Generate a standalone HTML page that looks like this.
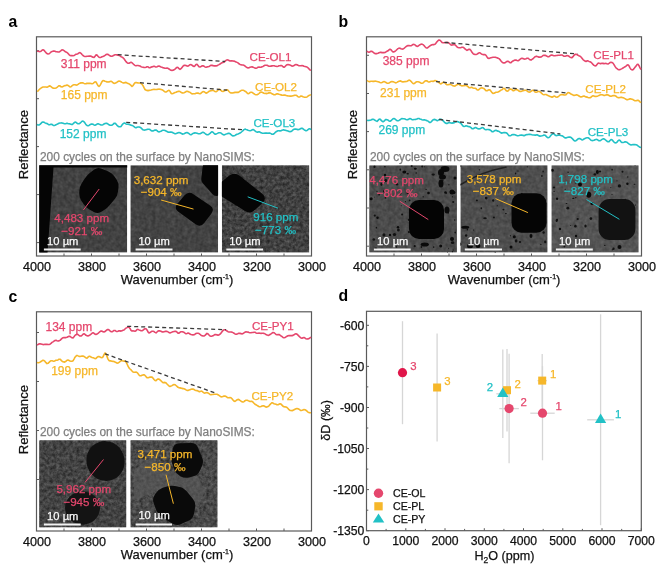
<!DOCTYPE html>
<html><head><meta charset="utf-8"><style>
html,body{margin:0;padding:0;background:#fff;}
svg{display:block;font-family:"Liberation Sans", sans-serif;will-change:transform;}
</style></head><body>
<svg width="660" height="570" viewBox="0 0 660 570">
<rect x="0" y="0" width="660" height="570" fill="#fff"/>
<defs><filter id="tex" x="0" y="0" width="100%" height="100%" color-interpolation-filters="sRGB"><feTurbulence type="fractalNoise" baseFrequency="0.25" numOctaves="2" seed="3"/><feColorMatrix type="matrix" values="1 0 0 0 0  1 0 0 0 0  1 0 0 0 0  0 0 0 0 1" result="n"/><feComposite in="SourceGraphic" in2="n" operator="arithmetic" k1="0" k2="1" k3="0.16" k4="-0.08"/></filter><filter id="tex2" x="0" y="0" width="100%" height="100%" color-interpolation-filters="sRGB"><feTurbulence type="fractalNoise" baseFrequency="0.3" numOctaves="3" seed="5"/><feColorMatrix type="matrix" values="1 0 0 0 0  1 0 0 0 0  1 0 0 0 0  0 0 0 0 1" result="n"/><feComposite in="SourceGraphic" in2="n" operator="arithmetic" k1="0" k2="1" k3="0.32" k4="-0.16"/></filter></defs>
<text x="8.4" y="27.4" font-size="15.8" fill="#000" text-anchor="start" font-weight="bold" >a</text>
<line x1="36.5" y1="256" x2="36.5" y2="253.5" stroke="#5a5a5a" stroke-width="1" />
<line x1="64" y1="256" x2="64" y2="253.5" stroke="#5a5a5a" stroke-width="1" />
<line x1="91.5" y1="256" x2="91.5" y2="253.5" stroke="#5a5a5a" stroke-width="1" />
<line x1="119" y1="256" x2="119" y2="253.5" stroke="#5a5a5a" stroke-width="1" />
<line x1="146.5" y1="256" x2="146.5" y2="253.5" stroke="#5a5a5a" stroke-width="1" />
<line x1="174" y1="256" x2="174" y2="253.5" stroke="#5a5a5a" stroke-width="1" />
<line x1="201.5" y1="256" x2="201.5" y2="253.5" stroke="#5a5a5a" stroke-width="1" />
<line x1="229" y1="256" x2="229" y2="253.5" stroke="#5a5a5a" stroke-width="1" />
<line x1="256.5" y1="256" x2="256.5" y2="253.5" stroke="#5a5a5a" stroke-width="1" />
<line x1="284" y1="256" x2="284" y2="253.5" stroke="#5a5a5a" stroke-width="1" />
<line x1="311.5" y1="256" x2="311.5" y2="253.5" stroke="#5a5a5a" stroke-width="1" />
<text x="37.1" y="270.6" font-size="12.6" fill="#111" stroke="#111" stroke-width="0.25" text-anchor="middle" font-weight="normal" >4000</text>
<text x="92.1" y="270.6" font-size="12.6" fill="#111" stroke="#111" stroke-width="0.25" text-anchor="middle" font-weight="normal" >3800</text>
<text x="147.1" y="270.6" font-size="12.6" fill="#111" stroke="#111" stroke-width="0.25" text-anchor="middle" font-weight="normal" >3600</text>
<text x="202.1" y="270.6" font-size="12.6" fill="#111" stroke="#111" stroke-width="0.25" text-anchor="middle" font-weight="normal" >3400</text>
<text x="257.1" y="270.6" font-size="12.6" fill="#111" stroke="#111" stroke-width="0.25" text-anchor="middle" font-weight="normal" >3200</text>
<text x="312.1" y="270.6" font-size="12.6" fill="#111" stroke="#111" stroke-width="0.25" text-anchor="middle" font-weight="normal" >3000</text>
<text x="177" y="284.2" font-size="13" fill="#111" stroke="#111" stroke-width="0.25" text-anchor="middle">Wavenumber (cm<tspan font-size="7" dy="-5">-1</tspan><tspan dy="5">)</tspan></text>
<text transform="translate(27.6,144.6) rotate(-90)" font-size="13.1" fill="#111" stroke="#111" stroke-width="0.25" text-anchor="middle">Reflectance</text>
<rect x="36.5" y="36.8" width="275" height="219.2" fill="none" stroke="#5a5a5a" stroke-width="1.2"/>
<line x1="36.5" y1="50.7" x2="39" y2="50.7" stroke="#5a5a5a" stroke-width="1" />
<line x1="36.5" y1="98.7" x2="39" y2="98.7" stroke="#5a5a5a" stroke-width="1" />
<line x1="36.5" y1="146.6" x2="39" y2="146.6" stroke="#5a5a5a" stroke-width="1" />
<line x1="36.5" y1="194.6" x2="39" y2="194.6" stroke="#5a5a5a" stroke-width="1" />
<line x1="36.5" y1="242.6" x2="39" y2="242.6" stroke="#5a5a5a" stroke-width="1" />
<polyline points="37,51.3 38,51.3 39,51.5 40,51.6 41,51.2 42,50.2 43,49.7 44,50.2 45,51.5 46,52.6 47,53.6 48,54 49,53.8 50,53 51,52 52,51.6 53,51.1 54,51 55,51.3 56,51.7 57,51.8 58,52 59,52 60,51.5 61,50.7 62,49.8 63,50 64,50.6 65,51.5 66,52.1 67,52.5 68,53.4 69,54.6 70,55.5 71,55.6 72,55.5 73,55.7 74,55.5 75,54.9 76,54.2 77,54.1 78,53.7 79,52.9 80,52.6 81,53.3 82,54.5 83,55.5 84,56.2 85,56.5 86,56.5 87,56.3 88,56.2 89,56.1 90,56 91,56.1 92,56.7 93,57.3 94,57.4 95,56.4 96,54.9 97,55.1 98,56.3 99,57.3 100,57.6 101,57.2 102,56.7 103,56.4 104,56.1 105,55.4 106,54.6 107,54.3 108,54.4 109,55.1 110,55.8 111,56.3 112,56.2 113,55.8 114,55.2 115,54.8 116,54.7 117,54.9 118,55.1 119,55.4 120,55.9 121,56.7 122,57.1 123,57.7 124,58.8 125,60.2 126,61.6 127,62.6 128,63.2 129,63.2 130,62.7 131,62.3 132,62.7 133,63.7 134,64.7 135,65.5 136,65.7 137,65.5 138,65.5 139,65.7 140,66 141,66.7 142,67 143,67.2 144,67.4 145,67.5 146,67.2 147,66.7 148,66.8 149,67.6 150,67.7 151,67.1 152,66.9 153,66.6 154,66.3 155,66.6 156,67.1 157,66.8 158,66.3 159,66 160,66.4 161,67 162,67.3 163,67.7 164,67.9 165,68.2 166,68.2 167,68 168,68.3 169,69 170,69.7 171,70.2 172,70.4 173,70.3 174,69.8 175,69.1 176,68.2 177,67.3 178,67.5 179,68.7 180,69.4 181,68.7 182,67.4 183,66.2 184,65.4 185,65.3 186,65.5 187,66 188,66.1 189,65.5 190,64.7 191,64.6 192,65.2 193,66.1 194,66.5 195,65.8 196,64.5 197,64.3 198,65.5 199,66.8 200,67 201,66.5 202,65.9 203,65.7 204,66.2 205,67 206,67.2 207,66.9 208,66.7 209,66.5 210,65.9 211,65.3 212,65.4 213,65.6 214,65.9 215,65.9 216,65.9 217,65.7 218,65.1 219,64.6 220,64 221,63.3 222,62.8 223,62.5 224,62.1 225,61.3 226,60.4 227,59.9 228,60 229,60.5 230,61 231,60.9 232,60.9 233,61 234,61.1 235,61.5 236,61.9 237,62.4 238,62.9 239,63.8 240,64.4 241,64.7 242,65 243,65 244,65.3 245,66 246,66.9 247,67.6 248,67.9 249,67.7 250,67.2 251,67 252,66.9 253,67.1 254,67.6 255,68.1 256,68.2 257,67.9 258,67.2 259,67 260,67.2 261,67.2 262,66.8 263,66.4 264,65.8 265,65.3 266,65.2 267,65.2 268,65.8 269,66.3 270,66.3 271,66.1 272,65.9 273,65.7 274,65.8 275,66.1 276,66.3 277,66.5 278,66.2 279,65.8 280,65.7 281,65.4 282,65.7 283,66.7 284,67.3 285,66.6 286,65.4 287,64.8 288,64.6 289,64.8 290,65.1 291,65.5 292,66.1 293,66 294,65.5 295,64.8 296,64.5 297,64.7 298,65.3 299,65.7 300,65.8 301,65.7 302,65.6 303,65.8 304,66.3 305,66.5 306,66.7 307,67 308,67.8 309,68.9 310,69.9 311,70.3" fill="none" stroke="#e5476d" stroke-width="1.6" stroke-linejoin="round"/>
<polyline points="37,91.3 38,91 39,89.8 40,88.8 41,88.1 42,87.4 43,87 44,87 45,87 46,87 47,87.2 48,86.7 49,86.1 50,85.9 51,86.6 52,87.5 53,88.1 54,88.3 55,88.2 56,88 57,87.4 58,86.5 59,85.7 60,85.9 61,86.8 62,86.9 63,86.5 64,85.9 65,85.6 66,85.5 67,85 68,85.4 69,86.2 70,87 71,86.8 72,85.8 73,85 74,84.7 75,84.8 76,85.1 77,85 78,84.4 79,83.6 80,83.1 81,82.9 82,82.7 83,82.9 84,83.4 85,83.7 86,83.6 87,83.4 88,83.4 89,83.4 90,83.4 91,83.5 92,83.8 93,83.5 94,82.6 95,81.9 96,82 97,83.8 98,85.6 99,86.4 100,85.5 101,83.6 102,81.6 103,80.6 104,80.8 105,81.3 106,81.5 107,81.9 108,82 109,81.9 110,81.6 111,81.3 112,81.8 113,82.8 114,83.4 115,83.2 116,82.8 117,82.2 118,81.5 119,81.1 120,81.3 121,81.8 122,82.4 123,82.9 124,83 125,82.6 126,82.4 127,83 128,83.4 129,83.8 130,84.5 131,85.4 132,86.5 133,85.7 134,84 135,82.7 136,82.4 137,82.7 138,82.9 139,83 140,83 141,83.4 142,84.2 143,85.6 144,87.7 145,89.5 146,90.2 147,90.4 148,90.6 149,90.4 150,90.2 151,90 152,89.7 153,89.5 154,89.4 155,89.5 156,89.5 157,89.4 158,89.2 159,89.1 160,89.2 161,89.4 162,89.7 163,90.2 164,91.2 165,91.9 166,92 167,91.5 168,90.7 169,90.3 170,91.3 171,93.2 172,93.8 173,93.5 174,93 175,92.6 176,92.3 177,91.7 178,91.4 179,91.2 180,91.5 181,92.3 182,92.9 183,93 184,92.7 185,92.3 186,91.6 187,91.2 188,91.5 189,91.9 190,92.4 191,93.2 192,93.9 193,93.8 194,93.8 195,93.7 196,93.3 197,93.1 198,93 199,93.5 200,93.8 201,93.2 202,92.2 203,91.6 204,91.7 205,92.4 206,93.1 207,92.9 208,92.2 209,91.3 210,90.9 211,90.7 212,90.4 213,90.4 214,90.9 215,91.5 216,91.7 217,91.1 218,90.1 219,89.3 220,89.5 221,90.4 222,91.3 223,91.5 224,91.1 225,90.5 226,89.8 227,89.8 228,90.3 229,91.5 230,92.5 231,92.9 232,93 233,92.9 234,92.6 235,92.4 236,92.4 237,92.4 238,92.4 239,92 240,91.2 241,90.6 242,90.3 243,90.3 244,90.6 245,91.2 246,91.8 247,92.9 248,93.7 249,93.4 250,92.6 251,92.2 252,92.3 253,93 254,93.8 255,94.4 256,94.7 257,94.8 258,94.3 259,93.5 260,92.6 261,92 262,92.3 263,92.7 264,93.3 265,93.5 266,93.4 267,93.6 268,93.1 269,92.9 270,92.9 271,93 272,93.8 273,94.3 274,94.8 275,94.8 276,94.3 277,93.8 278,93.9 279,94.3 280,94.6 281,94.9 282,95.1 283,95.2 284,95 285,95.1 286,95.4 287,95.7 288,95.9 289,96 290,96.1 291,96.1 292,96 293,95.7 294,95.4 295,95.2 296,95.2 297,95.8 298,96.8 299,97.1 300,96.7 301,96 302,96.3 303,96.8 304,97.1 305,97.2 306,97.2 307,97 308,96.2 309,95.4 310,95.1 311,94.7" fill="none" stroke="#f6b72a" stroke-width="1.6" stroke-linejoin="round"/>
<polyline points="37,124.6 38,125 39,125 40,124.4 41,123.4 42,122.2 43,121.9 44,122.2 45,122.9 46,123.4 47,123.5 48,124.2 49,124.7 50,124.6 51,124.3 52,124.4 53,125.2 54,125.6 55,125.2 56,124.7 57,124.3 58,123.8 59,123.2 60,123 61,123 62,122.9 63,123.2 64,123.6 65,123.8 66,123.6 67,123.3 68,123.6 69,123.8 70,123.9 71,124.2 72,124.6 73,123.9 74,122.9 75,122.1 76,122.3 77,123.2 78,123.7 79,123.8 80,123.3 81,122.3 82,121.2 83,121.1 84,121.8 85,123.1 86,124.6 87,125.4 88,125.8 89,125.4 90,124.7 91,124.1 92,124 93,124.3 94,124.9 95,125.2 96,124.8 97,124.1 98,123.8 99,124.1 100,124.6 101,125 102,125 103,124.7 104,124 105,123.5 106,123.4 107,123.4 108,124 109,124.8 110,125.2 111,125.3 112,125.2 113,124.4 114,123.4 115,123.2 116,124.1 117,125.3 118,126.2 119,126.8 120,126.8 121,126.4 122,125.1 123,123.8 124,123 125,123.1 126,124 127,124.3 128,124.3 129,124.4 130,124.8 131,125.2 132,125.4 133,125.9 134,126.6 135,127.4 136,127.7 137,127.2 138,127 139,127 140,127.3 141,127.9 142,128.9 143,129.8 144,130.1 145,130 146,129.7 147,129.4 148,129.2 149,129.2 150,129.6 151,130.5 152,131 153,130.9 154,130.5 155,130.1 156,130 157,130.7 158,131.6 159,131.9 160,131.6 161,131.2 162,130.6 163,130.2 164,130.3 165,130.5 166,131 167,131.5 168,132.1 169,132.2 170,132.1 171,132 172,132.2 173,132.8 174,133.3 175,133.7 176,133.6 177,133.2 178,132.8 179,132.6 180,132.8 181,133.3 182,133.9 183,134.1 184,133.8 185,133.3 186,132.8 187,132.6 188,133 189,133.7 190,134.4 191,134.8 192,134.1 193,133.4 194,133.1 195,132.9 196,133 197,133.3 198,133.6 199,133.8 200,133.8 201,133.3 202,132.6 203,132.3 204,132.7 205,133.5 206,134.3 207,134.8 208,134.7 209,134.1 210,133.3 211,132.4 212,131.8 213,132.2 214,133.3 215,134.2 216,134.1 217,133.6 218,133.1 219,132.8 220,132.8 221,133 222,133.9 223,134.6 224,134.9 225,134.6 226,134.1 227,133.8 228,133.4 229,133.3 230,133.7 231,134.6 232,135.5 233,135.9 234,135.8 235,135.4 236,134.8 237,134.2 238,133.9 239,133.5 240,133 241,132.3 242,131.5 243,130.6 244,129.6 245,129.1 246,129.5 247,129.8 248,130.2 249,130.5 250,130.7 251,130.5 252,129.9 253,129.5 254,130 255,130.9 256,131.7 257,132.1 258,132.1 259,131.8 260,132.1 261,132.8 262,133.1 263,133.2 264,133.2 265,133.1 266,133 267,133.1 268,133.2 269,133 270,133.1 271,133.6 272,134.2 273,134.3 274,133.7 275,132.7 276,131.8 277,131.2 278,130.7 279,130.7 280,130.9 281,130.7 282,130.2 283,129.9 284,129.9 285,130.3 286,130.4 287,130.7 288,131.1 289,131.5 290,131.6 291,131.5 292,130.8 293,129.9 294,129.3 295,129 296,129.1 297,129.4 298,129.6 299,129.5 300,129.1 301,128.4 302,128.2 303,128.8 304,129.6 305,130.3 306,130.8 307,130.5 308,129.6 309,128.8 310,128.8 311,129.6" fill="none" stroke="#22c1c6" stroke-width="1.6" stroke-linejoin="round"/>
<line x1="117.7" y1="54.7" x2="225" y2="61.5" stroke="#3a3a3a" stroke-width="1.3" stroke-dasharray="4 3"/>
<line x1="140" y1="82.7" x2="227.2" y2="90.1" stroke="#3a3a3a" stroke-width="1.3" stroke-dasharray="4 3"/>
<line x1="126.2" y1="122.3" x2="242" y2="129.7" stroke="#3a3a3a" stroke-width="1.3" stroke-dasharray="4 3"/>
<text x="60.8" y="67.8" font-size="12" fill="#e5476d" stroke="#e5476d" stroke-width="0.25" text-anchor="start" font-weight="normal" >311 ppm</text>
<text x="60.8" y="98.6" font-size="12" fill="#f6b72a" stroke="#f6b72a" stroke-width="0.25" text-anchor="start" font-weight="normal" >165 ppm</text>
<text x="59.7" y="138.2" font-size="12" fill="#22c1c6" stroke="#22c1c6" stroke-width="0.25" text-anchor="start" font-weight="normal" >152 ppm</text>
<text x="249.6" y="60.9" font-size="11.6" fill="#e5476d" stroke="#e5476d" stroke-width="0.25" text-anchor="start" font-weight="normal" >CE-OL1</text>
<text x="255.1" y="91" font-size="11.6" fill="#f6b72a" stroke="#f6b72a" stroke-width="0.25" text-anchor="start" font-weight="normal" >CE-OL2</text>
<text x="253.4" y="127.2" font-size="11.6" fill="#22c1c6" stroke="#22c1c6" stroke-width="0.25" text-anchor="start" font-weight="normal" >CE-OL3</text>
<text x="40" y="160.5" font-size="11.9" fill="#7f7f7f" stroke="#7f7f7f" stroke-width="0.25" text-anchor="start" font-weight="normal" >200 cycles on the surface by NanoSIMS:</text>
<clipPath id="ca1"><rect x="39.2" y="165.3" width="88" height="87.3"/></clipPath>
<g clip-path="url(#ca1)">
<rect x="39.2" y="165.3" width="88" height="87.3" fill="#424242" filter="url(#tex)"/>
<path d="M39,165 L128,165 L128,167.6 L53.5,167.6 L47.5,253 L39,253 Z" fill="#050505"/>
<path d="M94.2,169.6 Q97.4,167.2 101.1,168.6 L108.4,171.5 Q112.1,173 114.3,176.3 L116.8,180.1 Q119,183.5 118.5,187.4 L117.9,192.1 Q117.4,196.1 114.8,199.1 L109.4,205.6 Q106.9,208.7 103.4,210.6 L100.9,212 Q97.4,213.9 93.9,212 L89.4,209.5 Q85.9,207.6 83.7,204.2 L81.2,200.5 Q79.1,197.1 79.2,193.1 L79.4,190.6 Q79.6,186.6 81.7,183.2 L84.8,178.4 Q86.9,175.1 90.1,172.7 Z" fill="#050505"/>
</g>
<line x1="99.2" y1="189" x2="83.4" y2="210" stroke="#e5476d" stroke-width="1" />
<text x="54.3" y="222.3" font-size="11.6" fill="#e5476d" stroke="#e5476d" stroke-width="0.25" text-anchor="start" font-weight="normal" >4,483 ppm</text>
<text x="61.3" y="234.6" font-size="11.6" fill="#e5476d" stroke="#e5476d" stroke-width="0.25" text-anchor="start" font-weight="normal" >−921 ‰</text>
<line x1="43.9" y1="249.5" x2="80.7" y2="249.5" stroke="#f2f2f2" stroke-width="2" />
<text x="47.1" y="244.6" font-size="11.2" fill="#fafafa" stroke="#fafafa" stroke-width="0.25" text-anchor="start" font-weight="normal" >10 µm</text>
<clipPath id="ca2"><rect x="130.4" y="165.3" width="87.7" height="87.3"/></clipPath>
<g clip-path="url(#ca2)">
<rect x="130.4" y="165.3" width="87.7" height="87.3" fill="#434343" filter="url(#tex)"/>
<path d="M184.6,195.3 Q188.5,190.8 193.4,194.2 L210.1,205.6 Q215,209 211.3,213.8 L204.2,223 Q200.5,227.8 195.6,224.3 L178.4,211.7 Q173.5,208.2 177.4,203.7 Z" fill="#050505"/>
<path d="M202.7,166.5 Q203,164 205.5,164 L216.5,164 Q219,164 219,166.5 L219,193.5 Q219,196 216.5,196 L216.5,196 Q214,196 212.4,194.1 L202.6,182.9 Q201,181 201.3,178.5 Z" fill="#050505"/>
</g>
<line x1="161.1" y1="200" x2="193.5" y2="209.1" stroke="#f6b72a" stroke-width="1" />
<text x="133.7" y="183.7" font-size="11.6" fill="#f6b72a" stroke="#f6b72a" stroke-width="0.25" text-anchor="start" font-weight="normal" >3,632 ppm</text>
<text x="140.7" y="196" font-size="11.6" fill="#f6b72a" stroke="#f6b72a" stroke-width="0.25" text-anchor="start" font-weight="normal" >−904 ‰</text>
<line x1="135.6" y1="249.5" x2="172.5" y2="249.5" stroke="#f2f2f2" stroke-width="2" />
<text x="138.4" y="244.6" font-size="11.2" fill="#fafafa" stroke="#fafafa" stroke-width="0.25" text-anchor="start" font-weight="normal" >10 µm</text>
<clipPath id="ca3"><rect x="221.9" y="165.3" width="87.4" height="87.3"/></clipPath>
<g clip-path="url(#ca3)">
<rect x="221.9" y="165.3" width="87.4" height="87.3" fill="#414141" filter="url(#tex2)"/>
<path d="M213,189.8 Q213,188.5 214,187.7 L229,175.8 Q234.5,171.5 240,175.9 L262,193.6 Q267.5,198 262.5,202.9 L255.5,209.6 Q250.5,214.5 244.6,210.8 L214.1,191.7 Q213,191 213,189.8 Z" fill="#050505"/>
</g>
<line x1="247.7" y1="196.8" x2="278" y2="208.2" stroke="#22c1c6" stroke-width="1" />
<text x="253.3" y="221.4" font-size="11.6" fill="#22c1c6" stroke="#22c1c6" stroke-width="0.25" text-anchor="start" font-weight="normal" >916 ppm</text>
<text x="255.1" y="233.7" font-size="11.6" fill="#22c1c6" stroke="#22c1c6" stroke-width="0.25" text-anchor="start" font-weight="normal" >−773 ‰</text>
<line x1="226.3" y1="249.5" x2="263.1" y2="249.5" stroke="#f2f2f2" stroke-width="2" />
<text x="229.3" y="244.6" font-size="11.2" fill="#fafafa" stroke="#fafafa" stroke-width="0.25" text-anchor="start" font-weight="normal" >10 µm</text>
<text x="338.4" y="27.4" font-size="15.8" fill="#000" text-anchor="start" font-weight="bold" >b</text>
<line x1="366.5" y1="256" x2="366.5" y2="253.5" stroke="#5a5a5a" stroke-width="1" />
<line x1="394" y1="256" x2="394" y2="253.5" stroke="#5a5a5a" stroke-width="1" />
<line x1="421.5" y1="256" x2="421.5" y2="253.5" stroke="#5a5a5a" stroke-width="1" />
<line x1="449" y1="256" x2="449" y2="253.5" stroke="#5a5a5a" stroke-width="1" />
<line x1="476.5" y1="256" x2="476.5" y2="253.5" stroke="#5a5a5a" stroke-width="1" />
<line x1="504" y1="256" x2="504" y2="253.5" stroke="#5a5a5a" stroke-width="1" />
<line x1="531.5" y1="256" x2="531.5" y2="253.5" stroke="#5a5a5a" stroke-width="1" />
<line x1="559" y1="256" x2="559" y2="253.5" stroke="#5a5a5a" stroke-width="1" />
<line x1="586.5" y1="256" x2="586.5" y2="253.5" stroke="#5a5a5a" stroke-width="1" />
<line x1="614" y1="256" x2="614" y2="253.5" stroke="#5a5a5a" stroke-width="1" />
<line x1="641.5" y1="256" x2="641.5" y2="253.5" stroke="#5a5a5a" stroke-width="1" />
<text x="367.1" y="270.6" font-size="12.6" fill="#111" stroke="#111" stroke-width="0.25" text-anchor="middle" font-weight="normal" >4000</text>
<text x="422.1" y="270.6" font-size="12.6" fill="#111" stroke="#111" stroke-width="0.25" text-anchor="middle" font-weight="normal" >3800</text>
<text x="477.1" y="270.6" font-size="12.6" fill="#111" stroke="#111" stroke-width="0.25" text-anchor="middle" font-weight="normal" >3600</text>
<text x="532.1" y="270.6" font-size="12.6" fill="#111" stroke="#111" stroke-width="0.25" text-anchor="middle" font-weight="normal" >3400</text>
<text x="587.1" y="270.6" font-size="12.6" fill="#111" stroke="#111" stroke-width="0.25" text-anchor="middle" font-weight="normal" >3200</text>
<text x="642.1" y="270.6" font-size="12.6" fill="#111" stroke="#111" stroke-width="0.25" text-anchor="middle" font-weight="normal" >3000</text>
<text x="504.1" y="284.2" font-size="13" fill="#111" stroke="#111" stroke-width="0.25" text-anchor="middle">Wavenumber (cm<tspan font-size="7" dy="-5">-1</tspan><tspan dy="5">)</tspan></text>
<text transform="translate(357,144.6) rotate(-90)" font-size="13.1" fill="#111" stroke="#111" stroke-width="0.25" text-anchor="middle">Reflectance</text>
<rect x="366.5" y="36.8" width="275" height="219.2" fill="none" stroke="#5a5a5a" stroke-width="1.2"/>
<line x1="366.5" y1="55.3" x2="369" y2="55.3" stroke="#5a5a5a" stroke-width="1" />
<line x1="366.5" y1="93.5" x2="369" y2="93.5" stroke="#5a5a5a" stroke-width="1" />
<line x1="366.5" y1="131.6" x2="369" y2="131.6" stroke="#5a5a5a" stroke-width="1" />
<line x1="366.5" y1="169.8" x2="369" y2="169.8" stroke="#5a5a5a" stroke-width="1" />
<line x1="366.5" y1="208" x2="369" y2="208" stroke="#5a5a5a" stroke-width="1" />
<line x1="366.5" y1="246.2" x2="369" y2="246.2" stroke="#5a5a5a" stroke-width="1" />
<polyline points="367,51 368,52 369,52.3 370,51.8 371,51.2 372,51.4 373,52.1 374,53 375,53.6 376,53.6 377,53.6 378,53.3 379,52.8 380,52.4 381,52.4 382,52.6 383,52.6 384,52.6 385,52.5 386,51.9 387,51.3 388,50.8 389,49.9 390,49.2 391,49.7 392,51 393,51.9 394,51.9 395,51.3 396,50.5 397,49.5 398,48.6 399,48.1 400,48.2 401,48.8 402,49.1 403,49 404,48.4 405,47.5 406,46.7 407,46 408,45.5 409,45.6 410,45.8 411,45.7 412,45.2 413,44.5 414,44.4 415,44.9 416,45.8 417,46.4 418,46.2 419,45.4 420,44.7 421,44.2 422,44.1 423,44.6 424,45.5 425,46.7 426,47.7 427,48.1 428,47.5 429,46.6 430,45.8 431,45.3 432,44.8 433,44.6 434,44.6 435,44.2 436,43.1 437,41.8 438,40.7 439,40 440,40.3 441,41.3 442,42.4 443,42.7 444,42.8 445,42.8 446,42.6 447,42.4 448,42.5 449,43.1 450,44 451,45 452,45.1 453,44.7 454,44.4 455,44.8 456,45.8 457,46.9 458,47.5 459,47.7 460,47.7 461,47.6 462,47.3 463,47.3 464,47.9 465,48.8 466,49.7 467,50.4 468,49.8 469,49.2 470,49.4 471,50.6 472,52.3 473,53.6 474,54.2 475,54.4 476,54.5 477,54.2 478,53.5 479,52.8 480,52.8 481,53.6 482,54.2 483,54.6 484,54.6 485,54.5 486,55.3 487,56.9 488,58.2 489,58.4 490,58.1 491,57.7 492,57.5 493,57.3 494,57.3 495,57.3 496,57.4 497,57.9 498,58.1 499,58.6 500,59.6 501,60.9 502,62.1 503,62.8 504,63.1 505,62.8 506,62 507,61.4 508,61.3 509,61.9 510,62.7 511,62.6 512,61.7 513,61 514,60.4 515,60 516,60.1 517,60.5 518,60.8 519,60.2 520,59.3 521,58.5 522,58.3 523,58.6 524,59 525,59.1 526,58.7 527,58.2 528,58.2 529,59 530,59.8 531,60.1 532,59.4 533,58.8 534,57.8 535,56.8 536,56.4 537,56.4 538,56.9 539,57.1 540,57.1 541,57 542,56.3 543,55.5 544,55.2 545,55.4 546,55.6 547,56.2 548,56.7 549,56.6 550,55.8 551,55 552,55.1 553,55.4 554,55.8 555,55.8 556,55.5 557,55.5 558,55.3 559,55.3 560,55.2 561,55 562,55 563,55.6 564,56.2 565,56.2 566,55.9 567,55.6 568,55.7 569,56.3 570,57.1 571,57.6 572,57.6 573,56.7 574,55.3 575,54.4 576,54.2 577,54.6 578,55.3 579,55.8 580,56.2 581,57 582,58.3 583,59.6 584,60.3 585,61.1 586,61.5 587,60.8 588,60.9 589,61.4 590,61.7 591,62.2 592,63.2 593,64.4 594,65.4 595,65.9 596,65.7 597,64.5 598,63.3 599,63.1 600,63.6 601,63.6 602,63.3 603,63.4 604,63.6 605,63.5 606,63.4 607,63.8 608,64 609,63.4 610,62.6 611,62.3 612,62.5 613,63.1 614,64.6 615,66.4 616,67.9 617,68.6 618,69.4 619,69.8 620,69.6 621,69.1 622,68.6 623,68 624,67.4 625,66.8 626,66.1 627,65.2 628,64.7 629,65.8 630,67.8 631,69.4 632,69.9 633,69.7 634,68.6 635,67.2 636,66.1 637,64.6 638,64.3 639,65.7 640,67.9 641,69.5" fill="none" stroke="#e5476d" stroke-width="1.6" stroke-linejoin="round"/>
<polyline points="367,80.5 368,81.1 369,81.6 370,81.6 371,81.2 372,81.2 373,81.4 374,81.4 375,81.1 376,81.3 377,81.5 378,81.7 379,82.1 380,82.5 381,82.8 382,82.5 383,81.9 384,81.6 385,81.9 386,82.5 387,83.2 388,83.3 389,83 390,82.4 391,81.8 392,81.5 393,81.7 394,82.1 395,82.6 396,82.9 397,82.4 398,81.7 399,81.2 400,80.9 401,81.1 402,81.7 403,81.9 404,81.8 405,81.6 406,81.5 407,81.4 408,80.7 409,80.1 410,80.4 411,81.3 412,82.5 413,83.4 414,83.7 415,83 416,82.1 417,81.7 418,81.8 419,82 420,82.4 421,83.1 422,83.2 423,83 424,82 425,81 426,80.7 427,80.9 428,81.7 429,82.1 430,81.7 431,81.3 432,81.3 433,81.4 434,81 435,80.6 436,80.8 437,81.2 438,81.9 439,82.7 440,83.5 441,83.9 442,83.2 443,82.5 444,82.4 445,83 446,84.1 447,84.8 448,84.8 449,84.5 450,84.3 451,84.6 452,85.1 453,85.8 454,86.1 455,86 456,85.3 457,84.8 458,84.3 459,84.3 460,85 461,85.6 462,85.9 463,85.8 464,85.6 465,85.4 466,85.4 467,85.8 468,86.7 469,87.6 470,87.8 471,87.4 472,87.4 473,88 474,88.3 475,88.2 476,88.6 477,89.7 478,90.1 479,89.5 480,88.5 481,88 482,87.8 483,88.2 484,88.6 485,89.6 486,90.6 487,90.8 488,90.2 489,89.7 490,89.9 491,91.2 492,92.6 493,93.4 494,93.3 495,92.8 496,92.3 497,92.3 498,92 499,91.5 500,90.8 501,90.1 502,89.8 503,88.8 504,88.3 505,89 506,90.5 507,91.2 508,90.9 509,89.8 510,89.1 511,89.1 512,89.7 513,90.6 514,90.6 515,89.9 516,89.4 517,89.6 518,90.2 519,91.1 520,91.5 521,91.4 522,91.1 523,90.7 524,90.4 525,90.2 526,90.3 527,90.9 528,91.7 529,92.1 530,92 531,91.4 532,90.5 533,90.2 534,90.8 535,91.9 536,92.2 537,91.9 538,91.5 539,91.4 540,91.8 541,92.6 542,93.7 543,94.5 544,94.7 545,94.5 546,94.5 547,95 548,95.6 549,96 550,96.4 551,96.8 552,97.3 553,96.7 554,96.1 555,96.3 556,97 557,97.2 558,96.8 559,96 560,95.1 561,94.6 562,94.5 563,94.7 564,94.9 565,95 566,94.8 567,93.5 568,92.6 569,92.7 570,93.3 571,94 572,94.4 573,95 574,95.4 575,95.2 576,94.9 577,94.9 578,95.3 579,96 580,96.7 581,96.9 582,96.7 583,96.3 584,96.1 585,96.5 586,96.9 587,97.1 588,97.5 589,97.8 590,97.8 591,97.2 592,96.2 593,95.8 594,96.1 595,96.4 596,96.5 597,96.2 598,95.9 599,95.4 600,95 601,94.8 602,94.7 603,95.1 604,95.5 605,95.4 606,94.9 607,94.7 608,94.9 609,95.5 610,96.1 611,96.3 612,95.9 613,95.6 614,95.5 615,95.6 616,96.2 617,97.1 618,97.6 619,97.8 620,97.5 621,97.3 622,97.4 623,97.7 624,98.1 625,98.6 626,99.3 627,99.8 628,99.6 629,99.1 630,98.9 631,98.9 632,99.2 633,99.6 634,100.3 635,100.8 636,100.8 637,100.4 638,100.2 639,100.9 640,101.8 641,102.6" fill="none" stroke="#f6b72a" stroke-width="1.6" stroke-linejoin="round"/>
<polyline points="367,120.3 368,120.5 369,120.4 370,120.3 371,120 372,119.4 373,119.2 374,119.5 375,120.3 376,120.9 377,121.4 378,120.4 379,119.2 380,119.1 381,120.1 382,121.1 383,121.7 384,121.2 385,120.1 386,119.4 387,119.7 388,120.1 389,120.9 390,121.2 391,120.7 392,119.7 393,118.7 394,118.5 395,119 396,119.9 397,120.7 398,120.7 399,120.4 400,119.8 401,119 402,118.6 403,118.7 404,118.8 405,119 406,119.4 407,119.7 408,119.6 409,119 410,118.6 411,118.9 412,119.6 413,119.7 414,119.5 415,119.5 416,119.4 417,118.9 418,118.5 419,118.5 420,119 421,119.3 422,119.7 423,120 424,119.9 425,119.9 426,120.4 427,120.6 428,121.1 429,122 430,122.6 431,122.1 432,120.9 433,119.9 434,119.4 435,119.6 436,120 437,120.7 438,120.4 439,119.7 440,119.3 441,119.3 442,119.8 443,120.6 444,121.7 445,122.8 446,123.4 447,123.4 448,123 449,122.6 450,122.7 451,123 452,123.1 453,122.9 454,122.9 455,122.4 456,121.7 457,121.4 458,121.7 459,122.2 460,122.7 461,123.5 462,124.8 463,126.1 464,126.5 465,126.2 466,125.8 467,126.1 468,126.5 469,126.6 470,126.9 471,127.7 472,128.6 473,128.8 474,128.2 475,127.6 476,127.6 477,128.2 478,128.7 479,128.9 480,128.8 481,128.3 482,127.6 483,127.7 484,128.6 485,129.5 486,129.8 487,129.5 488,129.5 489,129.6 490,130 491,130.7 492,131.6 493,131.7 494,131.1 495,130.5 496,130.3 497,130.9 498,131.1 499,131.4 500,132.2 501,132.9 502,133.1 503,132.7 504,132.5 505,132.6 506,132.7 507,133.3 508,134.5 509,135.6 510,135.8 511,135.4 512,134.8 513,134.5 514,134.6 515,134.8 516,135.2 517,135.6 518,135.7 519,135.5 520,135.2 521,135.1 522,135.1 523,135.4 524,135.6 525,135.4 526,134.8 527,134.6 528,134.5 529,134.4 530,134.3 531,134.5 532,134.8 533,135 534,135 535,135.1 536,135.1 537,134.7 538,135.3 539,135.9 540,136.1 541,136 542,135.8 543,135.5 544,135 545,135.2 546,136.1 547,137.1 548,137.7 549,137.5 550,136.6 551,135.3 552,134.3 553,133.6 554,133.9 555,135 556,135.6 557,135.5 558,135.2 559,135 560,135.3 561,135.6 562,135.7 563,136.2 564,137.2 565,137.9 566,137.9 567,137.6 568,137.3 569,137.1 570,137 571,137.4 572,138.3 573,139.4 574,140.5 575,141 576,140.7 577,139.8 578,138.9 579,138.5 580,138.6 581,139.2 582,140 583,139.7 584,139 585,138.4 586,138 587,137.8 588,137.7 589,138.3 590,139.3 591,140.3 592,140.6 593,140.5 594,140.3 595,139.7 596,139.4 597,139.5 598,140.1 599,140.7 600,140.7 601,140.1 602,139.4 603,138.9 604,138.9 605,139.5 606,140.3 607,141.2 608,141.8 609,141.6 610,140.5 611,139.6 612,139.8 613,140.9 614,142.1 615,142.8 616,142.9 617,142.2 618,140.8 619,140 620,140.5 621,141.8 622,142.5 623,142.5 624,142.2 625,141.8 626,141.9 627,142.2 628,143.2 629,144 630,144.6 631,145 632,144.7 633,144.5 634,144.6 635,144.6 636,144.7 637,145.1 638,145.9 639,146.6 640,147.3 641,147.5" fill="none" stroke="#22c1c6" stroke-width="1.6" stroke-linejoin="round"/>
<line x1="444.5" y1="42.4" x2="577.3" y2="54" stroke="#3a3a3a" stroke-width="1.3" stroke-dasharray="4 3"/>
<line x1="436" y1="81.6" x2="566.7" y2="92.9" stroke="#3a3a3a" stroke-width="1.3" stroke-dasharray="4 3"/>
<line x1="439.2" y1="119.5" x2="560.3" y2="133.9" stroke="#3a3a3a" stroke-width="1.3" stroke-dasharray="4 3"/>
<text x="382.7" y="64.6" font-size="12" fill="#e5476d" stroke="#e5476d" stroke-width="0.25" text-anchor="start" font-weight="normal" >385 ppm</text>
<text x="380.1" y="96.5" font-size="12" fill="#f6b72a" stroke="#f6b72a" stroke-width="0.25" text-anchor="start" font-weight="normal" >231 ppm</text>
<text x="378.5" y="133.9" font-size="12" fill="#22c1c6" stroke="#22c1c6" stroke-width="0.25" text-anchor="start" font-weight="normal" >269 ppm</text>
<text x="593.3" y="59.3" font-size="11.6" fill="#e5476d" stroke="#e5476d" stroke-width="0.25" text-anchor="start" font-weight="normal" >CE-PL1</text>
<text x="585.3" y="93.1" font-size="11.6" fill="#f6b72a" stroke="#f6b72a" stroke-width="0.25" text-anchor="start" font-weight="normal" >CE-PL2</text>
<text x="587.7" y="135.6" font-size="11.6" fill="#22c1c6" stroke="#22c1c6" stroke-width="0.25" text-anchor="start" font-weight="normal" >CE-PL3</text>
<text x="370" y="160.5" font-size="11.9" fill="#7f7f7f" stroke="#7f7f7f" stroke-width="0.25" text-anchor="start" font-weight="normal" >200 cycles on the surface by NanoSIMS:</text>
<clipPath id="cb1"><rect x="369.2" y="165.3" width="87.7" height="87.3"/></clipPath>
<g clip-path="url(#cb1)">
<rect x="369.2" y="165.3" width="87.7" height="87.3" fill="#4c4c4c" filter="url(#tex)"/>
<ellipse cx="384.9" cy="166.7" rx="0.9" ry="0.8" fill="#111"/><ellipse cx="411.7" cy="166.1" rx="1.1" ry="1" fill="#111"/><ellipse cx="433.2" cy="174.6" rx="1.7" ry="1.1" fill="#111"/><ellipse cx="424.6" cy="166.8" rx="0.5" ry="0.5" fill="#111"/><ellipse cx="435.8" cy="237" rx="0.6" ry="0.6" fill="#111"/><ellipse cx="376.4" cy="227.7" rx="0.7" ry="0.9" fill="#111"/><ellipse cx="404.3" cy="239.6" rx="1.2" ry="1.2" fill="#111"/><ellipse cx="452.5" cy="251.8" rx="0.6" ry="0.8" fill="#111"/><ellipse cx="374.6" cy="197.1" rx="0.5" ry="0.4" fill="#111"/><ellipse cx="394.5" cy="234.5" rx="1.7" ry="1.5" fill="#111"/><ellipse cx="423.2" cy="196.8" rx="0.6" ry="0.7" fill="#111"/><ellipse cx="374.5" cy="166.8" rx="1.1" ry="1.3" fill="#111"/><ellipse cx="433.7" cy="247.1" rx="0.7" ry="0.9" fill="#111"/><ellipse cx="436.3" cy="222.4" rx="1.4" ry="1.6" fill="#111"/><ellipse cx="398.4" cy="230" rx="1.4" ry="1.6" fill="#111"/><ellipse cx="401.2" cy="205.6" rx="0.4" ry="0.7" fill="#111"/><ellipse cx="408.8" cy="219.8" rx="1.1" ry="1.1" fill="#111"/><ellipse cx="383.9" cy="234.9" rx="1.5" ry="1.6" fill="#111"/><ellipse cx="426" cy="226.3" rx="0.7" ry="0.6" fill="#111"/><ellipse cx="407.5" cy="193.1" rx="1" ry="1" fill="#111"/><ellipse cx="397" cy="184.2" rx="1.2" ry="1.3" fill="#111"/><ellipse cx="377" cy="191.5" rx="0.6" ry="0.7" fill="#111"/><ellipse cx="454.7" cy="220" rx="0.7" ry="0.7" fill="#111"/><ellipse cx="441.7" cy="212" rx="1.4" ry="1.2" fill="#111"/><ellipse cx="414.7" cy="246.2" rx="1.1" ry="1.1" fill="#111"/><ellipse cx="426.1" cy="204.4" rx="1.2" ry="1.1" fill="#111"/><ellipse cx="443" cy="176.2" rx="0.8" ry="1.1" fill="#111"/><ellipse cx="396.6" cy="246.9" rx="0.6" ry="0.8" fill="#111"/><ellipse cx="421.4" cy="247" rx="0.7" ry="1" fill="#111"/><ellipse cx="414.9" cy="209.5" rx="0.5" ry="0.8" fill="#111"/><ellipse cx="453.1" cy="250" rx="0.5" ry="0.8" fill="#111"/><ellipse cx="433.8" cy="222" rx="0.5" ry="0.7" fill="#111"/><ellipse cx="373.8" cy="239.5" rx="1.3" ry="1.2" fill="#111"/><ellipse cx="455.2" cy="232.5" rx="0.8" ry="1" fill="#111"/><ellipse cx="400.3" cy="169.7" rx="0.9" ry="1.1" fill="#111"/><ellipse cx="452.4" cy="196.7" rx="0.5" ry="0.8" fill="#111"/><ellipse cx="375.9" cy="248.8" rx="1.4" ry="1.3" fill="#111"/><ellipse cx="385.8" cy="180.5" rx="1.3" ry="1.8" fill="#111"/><ellipse cx="384" cy="191.3" rx="0.9" ry="1.2" fill="#111"/><ellipse cx="446.4" cy="193.2" rx="0.5" ry="0.7" fill="#111"/><ellipse cx="374.8" cy="215.6" rx="1.1" ry="1.1" fill="#111"/><ellipse cx="421.8" cy="244.4" rx="1.1" ry="0.8" fill="#111"/><ellipse cx="381.4" cy="184.5" rx="1" ry="1.4" fill="#111"/><ellipse cx="448.4" cy="212.9" rx="0.7" ry="0.6" fill="#111"/><ellipse cx="448.9" cy="184.7" rx="0.6" ry="0.7" fill="#111"/><ellipse cx="385.5" cy="197.9" rx="1" ry="0.8" fill="#111"/><ellipse cx="405.5" cy="201.6" rx="0.6" ry="0.7" fill="#111"/><ellipse cx="452.6" cy="242.7" rx="1.7" ry="1.4" fill="#111"/><ellipse cx="451.5" cy="191.5" rx="1" ry="0.9" fill="#111"/><ellipse cx="391" cy="194.1" rx="0.9" ry="0.9" fill="#111"/><ellipse cx="400.2" cy="193.6" rx="1.3" ry="0.9" fill="#111"/><ellipse cx="434.3" cy="209.2" rx="1.2" ry="1.1" fill="#111"/><ellipse cx="442.9" cy="180.3" rx="0.7" ry="0.8" fill="#111"/><ellipse cx="379.1" cy="194.8" rx="1" ry="0.7" fill="#111"/><ellipse cx="435.5" cy="214" rx="0.8" ry="0.8" fill="#111"/><ellipse cx="447.4" cy="252.5" rx="0.5" ry="0.7" fill="#111"/><ellipse cx="436.3" cy="237.4" rx="0.6" ry="0.5" fill="#111"/><ellipse cx="402.1" cy="214.5" rx="1" ry="1" fill="#111"/><ellipse cx="426.5" cy="224.1" rx="0.5" ry="0.4" fill="#111"/><ellipse cx="426.1" cy="189.6" rx="0.7" ry="0.5" fill="#111"/><ellipse cx="416.2" cy="173" rx="0.7" ry="0.7" fill="#111"/><ellipse cx="409.7" cy="200.4" rx="0.8" ry="0.9" fill="#111"/><ellipse cx="448.7" cy="248.5" rx="0.4" ry="0.7" fill="#111"/><ellipse cx="408.8" cy="232.1" rx="1" ry="1.1" fill="#111"/><ellipse cx="422.2" cy="166.4" rx="1" ry="1" fill="#111"/><ellipse cx="426.6" cy="219.7" rx="1.1" ry="1.2" fill="#111"/><ellipse cx="424.5" cy="237.2" rx="0.6" ry="0.6" fill="#111"/><ellipse cx="407.6" cy="173.7" rx="1.2" ry="0.9" fill="#111"/><ellipse cx="453.2" cy="201.9" rx="1.1" ry="1" fill="#111"/><ellipse cx="413.5" cy="231.4" rx="0.9" ry="0.7" fill="#111"/>
<rect x="409" y="200" width="35" height="39" rx="10" fill="#040404" transform="rotate(0 426.5 219.5)"/>
<ellipse cx="445" cy="169" rx="4.5" ry="3" fill="#0a0a0a"/><ellipse cx="441" cy="172.5" rx="3" ry="3.5" fill="#0a0a0a"/><ellipse cx="442.5" cy="177" rx="3.5" ry="2.5" fill="#0a0a0a"/><ellipse cx="441" cy="183.5" rx="2.5" ry="4" fill="#0a0a0a"/><ellipse cx="452" cy="192" rx="2.5" ry="2.5" fill="#0a0a0a"/><ellipse cx="428.5" cy="193" rx="1.3" ry="1.3" fill="#0a0a0a"/><ellipse cx="445.5" cy="192.5" rx="1.3" ry="1.3" fill="#0a0a0a"/><ellipse cx="455" cy="178" rx="1.5" ry="1.5" fill="#0a0a0a"/><ellipse cx="447" cy="210" rx="2.5" ry="3.5" fill="#0a0a0a"/><ellipse cx="454" cy="192.4" rx="1.5" ry="1.5" fill="#0a0a0a"/><ellipse cx="371.2" cy="198.8" rx="1.5" ry="1.5" fill="#0a0a0a"/><ellipse cx="377.5" cy="217.7" rx="1.2" ry="1.2" fill="#0a0a0a"/><ellipse cx="404.3" cy="171.9" rx="2" ry="1.5" fill="#0a0a0a"/><ellipse cx="415.4" cy="168.7" rx="1.5" ry="1" fill="#0a0a0a"/><ellipse cx="424.9" cy="244.6" rx="4" ry="2" fill="#0a0a0a"/><ellipse cx="440.7" cy="246.1" rx="1.5" ry="1.5" fill="#0a0a0a"/><ellipse cx="398" cy="227.2" rx="1.2" ry="1.2" fill="#0a0a0a"/><ellipse cx="390" cy="235" rx="1.2" ry="1.2" fill="#0a0a0a"/><ellipse cx="452" cy="239" rx="2" ry="2" fill="#0a0a0a"/><ellipse cx="385" cy="175" rx="1.2" ry="1.2" fill="#0a0a0a"/>
</g>
<line x1="399.7" y1="201.2" x2="428.3" y2="219.6" stroke="#e5476d" stroke-width="1" />
<text x="369.2" y="184.2" font-size="11.6" fill="#e5476d" stroke="#e5476d" stroke-width="0.25" text-anchor="start" font-weight="normal" >4,476 ppm</text>
<text x="376.7" y="196.8" font-size="11.6" fill="#e5476d" stroke="#e5476d" stroke-width="0.25" text-anchor="start" font-weight="normal" >−802 ‰</text>
<line x1="373.9" y1="249.5" x2="410.7" y2="249.5" stroke="#f2f2f2" stroke-width="2" />
<text x="377.1" y="244.6" font-size="11.2" fill="#fafafa" stroke="#fafafa" stroke-width="0.25" text-anchor="start" font-weight="normal" >10 µm</text>
<clipPath id="cb2"><rect x="460.4" y="165.3" width="87.2" height="87.3"/></clipPath>
<g clip-path="url(#cb2)">
<rect x="460.4" y="165.3" width="87.2" height="87.3" fill="#4e4e4e" filter="url(#tex)"/>
<ellipse cx="473.6" cy="230.1" rx="0.7" ry="0.5" fill="#111"/><ellipse cx="540.8" cy="244.3" rx="0.8" ry="0.5" fill="#111"/><ellipse cx="485" cy="218.3" rx="1.8" ry="1" fill="#111"/><ellipse cx="505.9" cy="213.6" rx="1" ry="0.7" fill="#111"/><ellipse cx="527.3" cy="166.8" rx="0.5" ry="0.5" fill="#111"/><ellipse cx="519.1" cy="206.5" rx="1.1" ry="1.4" fill="#111"/><ellipse cx="521.8" cy="193.8" rx="0.9" ry="0.8" fill="#111"/><ellipse cx="543.6" cy="232.5" rx="1.2" ry="1.2" fill="#111"/><ellipse cx="495.3" cy="252.6" rx="0.8" ry="0.6" fill="#111"/><ellipse cx="497.3" cy="205.8" rx="0.7" ry="0.5" fill="#111"/><ellipse cx="467.4" cy="229.5" rx="0.7" ry="0.9" fill="#111"/><ellipse cx="479.4" cy="169.8" rx="0.8" ry="0.6" fill="#111"/><ellipse cx="510.4" cy="235.7" rx="0.5" ry="0.7" fill="#111"/><ellipse cx="503.4" cy="209.6" rx="1" ry="0.9" fill="#111"/><ellipse cx="513.1" cy="204.1" rx="1" ry="0.7" fill="#111"/><ellipse cx="543.1" cy="171.5" rx="0.7" ry="1" fill="#111"/><ellipse cx="516.1" cy="240.9" rx="1.4" ry="1.6" fill="#111"/><ellipse cx="541.3" cy="219.5" rx="0.6" ry="0.6" fill="#111"/><ellipse cx="544.3" cy="200.7" rx="1.8" ry="1.7" fill="#111"/><ellipse cx="460.3" cy="244.2" rx="1" ry="1.6" fill="#111"/><ellipse cx="493.9" cy="217.4" rx="1" ry="0.9" fill="#111"/><ellipse cx="466.1" cy="235.5" rx="1.2" ry="1.2" fill="#111"/><ellipse cx="493.2" cy="200.5" rx="1.1" ry="1.3" fill="#111"/><ellipse cx="517" cy="210" rx="0.8" ry="0.6" fill="#111"/><ellipse cx="476.9" cy="200.4" rx="1" ry="0.9" fill="#111"/><ellipse cx="541.9" cy="176.1" rx="0.8" ry="1" fill="#111"/><ellipse cx="518" cy="171" rx="0.7" ry="0.6" fill="#111"/><ellipse cx="460.7" cy="165.9" rx="0.7" ry="0.9" fill="#111"/><ellipse cx="545.2" cy="241.9" rx="1.1" ry="1.3" fill="#111"/><ellipse cx="481.3" cy="208.2" rx="0.8" ry="1" fill="#111"/><ellipse cx="516.6" cy="223" rx="0.7" ry="0.7" fill="#111"/><ellipse cx="486.2" cy="198.1" rx="1.4" ry="1.4" fill="#111"/><ellipse cx="514" cy="219.4" rx="0.6" ry="0.7" fill="#111"/><ellipse cx="543.6" cy="226.9" rx="0.5" ry="0.6" fill="#111"/><ellipse cx="515.6" cy="173.4" rx="0.7" ry="1" fill="#111"/>
<rect x="511.5" y="193.2" width="35" height="39.5" rx="10" fill="#050505" transform="rotate(0 529 213)"/>
<path d="M460,185 Q480,172 506.5,167" fill="none" stroke="#222" stroke-width="1.5"/>
<ellipse cx="465.3" cy="227.2" rx="4" ry="1.5" fill="#0a0a0a"/><ellipse cx="470" cy="246" rx="3" ry="2.5" fill="#0a0a0a"/><ellipse cx="478" cy="246" rx="2.5" ry="2" fill="#0a0a0a"/><ellipse cx="514.3" cy="236.7" rx="1.5" ry="1.5" fill="#0a0a0a"/><ellipse cx="511" cy="247" rx="1.5" ry="1.5" fill="#0a0a0a"/><ellipse cx="531" cy="236" rx="1.5" ry="2" fill="#0a0a0a"/><ellipse cx="520" cy="242" rx="1" ry="1" fill="#0a0a0a"/>
</g>
<line x1="495.5" y1="198.6" x2="527.9" y2="212.6" stroke="#f6b72a" stroke-width="1" />
<text x="466.7" y="182.5" font-size="11.6" fill="#f6b72a" stroke="#f6b72a" stroke-width="0.25" text-anchor="start" font-weight="normal" >3,578 ppm</text>
<text x="472.8" y="195.1" font-size="11.6" fill="#f6b72a" stroke="#f6b72a" stroke-width="0.25" text-anchor="start" font-weight="normal" >−837 ‰</text>
<line x1="464.8" y1="249.5" x2="502" y2="249.5" stroke="#f2f2f2" stroke-width="2" />
<text x="467.8" y="244.6" font-size="11.2" fill="#fafafa" stroke="#fafafa" stroke-width="0.25" text-anchor="start" font-weight="normal" >10 µm</text>
<clipPath id="cb3"><rect x="551.4" y="165.3" width="87.3" height="87.3"/></clipPath>
<g clip-path="url(#cb3)">
<rect x="551.4" y="165.3" width="87.3" height="87.3" fill="#545454" filter="url(#tex)"/>
<ellipse cx="619.4" cy="185.9" rx="1.6" ry="1.6" fill="#111"/><ellipse cx="590.9" cy="218.6" rx="1.3" ry="1.4" fill="#111"/><ellipse cx="554.1" cy="191.3" rx="0.7" ry="0.6" fill="#111"/><ellipse cx="610.8" cy="187.6" rx="0.5" ry="0.7" fill="#111"/><ellipse cx="634.5" cy="184.2" rx="0.9" ry="0.5" fill="#111"/><ellipse cx="556.7" cy="220.4" rx="1" ry="1.6" fill="#111"/><ellipse cx="622.5" cy="171.7" rx="1" ry="1" fill="#111"/><ellipse cx="635.1" cy="165" rx="0.7" ry="0.6" fill="#111"/><ellipse cx="575.4" cy="226.2" rx="1.2" ry="1.4" fill="#111"/><ellipse cx="573.3" cy="198.4" rx="1.1" ry="0.7" fill="#111"/><ellipse cx="611.4" cy="213.2" rx="0.5" ry="0.5" fill="#111"/><ellipse cx="564.4" cy="246.5" rx="0.9" ry="1.1" fill="#111"/><ellipse cx="600" cy="171.4" rx="1.2" ry="1" fill="#111"/><ellipse cx="567.8" cy="208.2" rx="1.4" ry="1.4" fill="#111"/><ellipse cx="594.9" cy="174.4" rx="1.3" ry="1.2" fill="#111"/><ellipse cx="627.8" cy="177" rx="0.7" ry="0.7" fill="#111"/><ellipse cx="635.4" cy="204.9" rx="0.7" ry="0.5" fill="#111"/><ellipse cx="566.5" cy="203.5" rx="0.9" ry="0.6" fill="#111"/><ellipse cx="625.3" cy="223.9" rx="0.5" ry="0.8" fill="#111"/><ellipse cx="568.1" cy="172.2" rx="0.7" ry="0.7" fill="#111"/><ellipse cx="612.3" cy="249.8" rx="0.6" ry="0.8" fill="#111"/><ellipse cx="570.7" cy="225.6" rx="0.5" ry="0.5" fill="#111"/><ellipse cx="617" cy="180.8" rx="0.5" ry="0.5" fill="#111"/><ellipse cx="554" cy="187.4" rx="1.2" ry="0.9" fill="#111"/><ellipse cx="604.8" cy="245.3" rx="0.8" ry="0.6" fill="#111"/><ellipse cx="624" cy="236.9" rx="0.5" ry="0.7" fill="#111"/><ellipse cx="600.6" cy="195.8" rx="0.5" ry="0.6" fill="#111"/><ellipse cx="613.5" cy="248.7" rx="1.1" ry="1.3" fill="#111"/><ellipse cx="557.3" cy="219.7" rx="0.8" ry="1" fill="#111"/><ellipse cx="565.2" cy="189.3" rx="0.6" ry="0.5" fill="#111"/><ellipse cx="612.1" cy="169.7" rx="0.8" ry="0.9" fill="#111"/><ellipse cx="575.8" cy="197.6" rx="0.7" ry="0.7" fill="#111"/><ellipse cx="625.3" cy="199.5" rx="0.7" ry="0.8" fill="#111"/><ellipse cx="624" cy="227.8" rx="0.8" ry="0.6" fill="#111"/><ellipse cx="630.2" cy="214.6" rx="0.8" ry="0.5" fill="#111"/><ellipse cx="612" cy="194.4" rx="0.5" ry="0.7" fill="#111"/><ellipse cx="577.7" cy="219" rx="1.2" ry="1.1" fill="#111"/><ellipse cx="585.5" cy="226.1" rx="1.2" ry="1.5" fill="#111"/><ellipse cx="575.5" cy="183" rx="0.8" ry="0.5" fill="#111"/><ellipse cx="627.5" cy="238.4" rx="0.9" ry="0.9" fill="#111"/>
<rect x="598.6" y="199.1" width="36.8" height="40.8" rx="11" fill="#121212" transform="rotate(0 617 219.5)"/>
<ellipse cx="552.4" cy="170.3" rx="1.5" ry="1.5" fill="#0a0a0a"/><ellipse cx="580" cy="184.5" rx="2" ry="2" fill="#0a0a0a"/><ellipse cx="588.7" cy="194.8" rx="2.5" ry="3" fill="#0a0a0a"/><ellipse cx="591.9" cy="203.5" rx="1.5" ry="1.5" fill="#0a0a0a"/><ellipse cx="557.1" cy="198.8" rx="1.2" ry="1.2" fill="#0a0a0a"/><ellipse cx="597.4" cy="171.9" rx="1.5" ry="2" fill="#0a0a0a"/><ellipse cx="627.4" cy="183.7" rx="1.2" ry="1.2" fill="#0a0a0a"/><ellipse cx="619.5" cy="247" rx="2" ry="2" fill="#0a0a0a"/><ellipse cx="560" cy="229" rx="1.2" ry="1.2" fill="#0a0a0a"/><ellipse cx="576" cy="236" rx="1.2" ry="1.2" fill="#0a0a0a"/>
</g>
<line x1="586.5" y1="199.5" x2="619.4" y2="219.3" stroke="#22c1c6" stroke-width="1" />
<text x="558.2" y="182.8" font-size="11.6" fill="#22c1c6" stroke="#22c1c6" stroke-width="0.25" text-anchor="start" font-weight="normal" >1,798 ppm</text>
<text x="564" y="195.1" font-size="11.6" fill="#22c1c6" stroke="#22c1c6" stroke-width="0.25" text-anchor="start" font-weight="normal" >−827 ‰</text>
<line x1="555.9" y1="249.5" x2="592.8" y2="249.5" stroke="#f2f2f2" stroke-width="2" />
<text x="559" y="244.6" font-size="11.2" fill="#fafafa" stroke="#fafafa" stroke-width="0.25" text-anchor="start" font-weight="normal" >10 µm</text>
<text x="8.4" y="302.4" font-size="15.8" fill="#000" text-anchor="start" font-weight="bold" >c</text>
<line x1="36.5" y1="531" x2="36.5" y2="528.5" stroke="#5a5a5a" stroke-width="1" />
<line x1="64" y1="531" x2="64" y2="528.5" stroke="#5a5a5a" stroke-width="1" />
<line x1="91.5" y1="531" x2="91.5" y2="528.5" stroke="#5a5a5a" stroke-width="1" />
<line x1="119" y1="531" x2="119" y2="528.5" stroke="#5a5a5a" stroke-width="1" />
<line x1="146.5" y1="531" x2="146.5" y2="528.5" stroke="#5a5a5a" stroke-width="1" />
<line x1="174" y1="531" x2="174" y2="528.5" stroke="#5a5a5a" stroke-width="1" />
<line x1="201.5" y1="531" x2="201.5" y2="528.5" stroke="#5a5a5a" stroke-width="1" />
<line x1="229" y1="531" x2="229" y2="528.5" stroke="#5a5a5a" stroke-width="1" />
<line x1="256.5" y1="531" x2="256.5" y2="528.5" stroke="#5a5a5a" stroke-width="1" />
<line x1="284" y1="531" x2="284" y2="528.5" stroke="#5a5a5a" stroke-width="1" />
<line x1="311.5" y1="531" x2="311.5" y2="528.5" stroke="#5a5a5a" stroke-width="1" />
<text x="37.1" y="545.6" font-size="12.6" fill="#111" stroke="#111" stroke-width="0.25" text-anchor="middle" font-weight="normal" >4000</text>
<text x="92.1" y="545.6" font-size="12.6" fill="#111" stroke="#111" stroke-width="0.25" text-anchor="middle" font-weight="normal" >3800</text>
<text x="147.1" y="545.6" font-size="12.6" fill="#111" stroke="#111" stroke-width="0.25" text-anchor="middle" font-weight="normal" >3600</text>
<text x="202.1" y="545.6" font-size="12.6" fill="#111" stroke="#111" stroke-width="0.25" text-anchor="middle" font-weight="normal" >3400</text>
<text x="257.1" y="545.6" font-size="12.6" fill="#111" stroke="#111" stroke-width="0.25" text-anchor="middle" font-weight="normal" >3200</text>
<text x="312.1" y="545.6" font-size="12.6" fill="#111" stroke="#111" stroke-width="0.25" text-anchor="middle" font-weight="normal" >3000</text>
<text x="177" y="559.2" font-size="13" fill="#111" stroke="#111" stroke-width="0.25" text-anchor="middle">Wavenumber (cm<tspan font-size="7" dy="-5">-1</tspan><tspan dy="5">)</tspan></text>
<text transform="translate(27.6,419.6) rotate(-90)" font-size="13.1" fill="#111" stroke="#111" stroke-width="0.25" text-anchor="middle">Reflectance</text>
<rect x="36.5" y="311.8" width="275" height="219.2" fill="none" stroke="#5a5a5a" stroke-width="1.2"/>
<line x1="36.5" y1="332.5" x2="39" y2="332.5" stroke="#5a5a5a" stroke-width="1" />
<line x1="36.5" y1="381.5" x2="39" y2="381.5" stroke="#5a5a5a" stroke-width="1" />
<line x1="36.5" y1="430.5" x2="39" y2="430.5" stroke="#5a5a5a" stroke-width="1" />
<line x1="36.5" y1="479.5" x2="39" y2="479.5" stroke="#5a5a5a" stroke-width="1" />
<polyline points="37,345 38,344.5 39,343.9 40,343.7 41,344 42,344.3 43,344.6 44,344.5 45,344.3 46,344.4 47,344.3 48,344.5 49,344.5 50,344.2 51,343.4 52,342.4 53,341.9 54,341.2 55,340.5 56,340.3 57,340.7 58,341 59,340.9 60,340.4 61,339.4 62,338.4 63,337.8 64,337.5 65,337.6 66,337.6 67,337.3 68,336.7 69,336.3 70,336.4 71,337.1 72,337.8 73,337.9 74,336.8 75,335.4 76,334.7 77,334.2 78,334.5 79,335.3 80,336 81,336 82,335.3 83,334.2 84,333.7 85,334.4 86,335.3 87,335.7 88,335.9 89,335.6 90,335 91,334.2 92,333.2 93,332.8 94,333.3 95,334.2 96,334.4 97,334.1 98,333.4 99,332.5 100,331.6 101,331 102,331.1 103,331.8 104,332 105,331.6 106,330.7 107,329.8 108,329.4 109,329.9 110,330.8 111,331.6 112,331.8 113,331.2 114,330.5 115,330.5 116,331.2 117,331.6 118,331.3 119,330.8 120,330.9 121,331.1 122,330.7 123,330.3 124,329.9 125,329 126,328.1 127,327.6 128,327 129,327.2 130,328.4 131,330.3 132,331 133,330.9 134,331 135,331.2 136,330.7 137,329.5 138,329.4 139,329.9 140,330.3 141,330.7 142,330.7 143,330.2 144,329.3 145,328.7 146,328.7 147,329.9 148,331.9 149,333 150,332.6 151,331.8 152,331.3 153,331.3 154,331.6 155,332.4 156,332.9 157,332 158,331.1 159,330.7 160,330.9 161,331.3 162,331.9 163,332 164,331.7 165,331.4 166,331.3 167,331.4 168,331.9 169,332.6 170,332.9 171,332.6 172,332.1 173,331.7 174,331.5 175,331.3 176,331.4 177,332.2 178,333.1 179,333.1 180,332.3 181,331.8 182,331.8 183,331.9 184,332.3 185,333.1 186,333.7 187,333.4 188,333 189,333.3 190,334 191,334.5 192,334.7 193,334.9 194,334.8 195,334.2 196,333.5 197,333.2 198,333.2 199,333.5 200,334.3 201,335.3 202,335.7 203,335.9 204,336 205,335.4 206,334.4 207,333.4 208,333.9 209,335 210,335.9 211,336.3 212,336.1 213,335.8 214,335.1 215,334.5 216,334.6 217,334.9 218,335.1 219,334.9 220,334.1 221,333.1 222,331.8 223,330.5 224,329.8 225,329.8 226,330.4 227,331 228,331.7 229,332 230,332 231,332 232,332.1 233,332.6 234,333.2 235,333.9 236,334.3 237,334.1 238,333.6 239,333.2 240,333.4 241,333.6 242,333.9 243,333.6 244,332.9 245,332.2 246,331.8 247,332 248,332.1 249,332.5 250,332.8 251,332.7 252,332.5 253,332.5 254,332.3 255,332.3 256,332.9 257,333.3 258,333.2 259,333.1 260,333.3 261,333.4 262,333.2 263,333.2 264,333.4 265,333.9 266,334.5 267,334.9 268,335.4 269,335.2 270,334.5 271,333.9 272,333.1 273,332.5 274,332.7 275,333.5 276,334.4 277,334.7 278,334.6 279,334.5 280,335.2 281,336 282,336.5 283,337.4 284,337.8 285,337.5 286,336.9 287,336.3 288,335.7 289,335.5 290,335.6 291,335.5 292,335.6 293,335.4 294,334.8 295,334 296,333.7 297,334.2 298,335.1 299,336.2 300,337.1 301,337.9 302,338.3 303,337.8 304,337.5 305,338 306,338.8 307,339 308,338.9 309,338.6 310,337.8 311,337" fill="none" stroke="#e5476d" stroke-width="1.6" stroke-linejoin="round"/>
<polyline points="37,362.4 38,362.7 39,362.6 40,362.2 41,361.5 42,360.8 43,360.3 44,360.5 45,361.4 46,362.7 47,363.6 48,363.3 49,362.4 50,361.4 51,360.8 52,360.8 53,361.1 54,361.2 55,360.8 56,360.3 57,360.2 58,359.9 59,359.2 60,359.2 61,360.1 62,361.1 63,361.8 64,362.1 65,361.9 66,361.3 67,360.3 68,360 69,360.4 70,361 71,361.3 72,361.2 73,360.8 74,359.1 75,357.2 76,356.1 77,355.4 78,355.9 79,356.4 80,356.5 81,356.2 82,356.1 83,356 84,356.4 85,357.2 86,358 87,358.1 88,357.2 89,356.3 90,356.3 91,357 92,357.5 93,357.7 94,358.1 95,358.6 96,358.5 97,357.4 98,356.6 99,356.6 100,357 101,357.5 102,357.7 103,356.8 104,354.6 105,353 106,353.7 107,356.4 108,359.1 109,360.5 110,360.9 111,360.9 112,361.3 113,361.4 114,361.5 115,362.1 116,362.5 117,363.1 118,363 119,362.4 120,361.5 121,360.8 122,360.8 123,361 124,361.1 125,361.1 126,361.8 127,363.8 128,366.2 129,367.9 130,369 131,369.8 132,371 133,372 134,372.3 135,372.2 136,372.1 137,372.4 138,373.6 139,375 140,375.8 141,375.7 142,375.2 143,374.9 144,374.8 145,375.4 146,376.6 147,377.6 148,377.8 149,377.4 150,377.1 151,377 152,377.1 153,378.1 154,379.5 155,380.4 156,380.6 157,379.7 158,379 159,379.1 160,379.9 161,380.8 162,381.8 163,382.6 164,382.6 165,382.4 166,382.9 167,384 168,385 169,386 170,386.4 171,386.1 172,385.6 173,384.9 174,384.5 175,384.7 176,385.5 177,386.4 178,387.3 179,387.7 180,387.9 181,388.1 182,388.4 183,388.6 184,388.8 185,389.2 186,389.9 187,390.4 188,390.5 189,390.1 190,389.7 191,389.3 192,389.1 193,389 194,389.5 195,390.2 196,390.5 197,390.6 198,391 199,391.6 200,391.6 201,391.1 202,391.2 203,392.2 204,393 205,393.1 206,392.8 207,392.6 208,393 209,393.7 210,394.4 211,394.8 212,394.5 213,394.5 214,394.3 215,394.2 216,394.3 217,394.3 218,394.8 219,395.4 220,396.1 221,396.8 222,396.9 223,396.4 224,396 225,396.1 226,396.5 227,397.2 228,397.8 229,397.8 230,397.6 231,397.7 232,398.7 233,400 234,401.1 235,401.4 236,400.7 237,399.8 238,399.4 239,399.6 240,400.4 241,401.1 242,401.8 243,402.1 244,401.6 245,400.7 246,400.2 247,400.2 248,400.6 249,401.1 250,401.5 251,401.4 252,401.4 253,402.1 254,403.2 255,404.2 256,404.8 257,405.4 258,406 259,406.7 260,406.8 261,406.5 262,406 263,405.9 264,405.9 265,406.5 266,407.1 267,406.9 268,406.6 269,405.8 270,404.6 271,403.5 272,402.7 273,403.1 274,403.7 275,404 276,404.3 277,404.8 278,404.8 279,404.3 280,403.8 281,404.1 282,405.1 283,406.2 284,406.8 285,406.9 286,407 287,407.5 288,408.5 289,409.7 290,410.4 291,410.5 292,410.6 293,410.4 294,409.8 295,409.2 296,408.8 297,408.5 298,408.7 299,409.2 300,410 301,410.6 302,410.3 303,409.9 304,409.5 305,409.7 306,410.3 307,411.2 308,412.1 309,412.6 310,412.8 311,412.8" fill="none" stroke="#f6b72a" stroke-width="1.6" stroke-linejoin="round"/>
<line x1="127.2" y1="326.3" x2="226.1" y2="329.7" stroke="#3a3a3a" stroke-width="1.3" stroke-dasharray="4 3"/>
<line x1="105" y1="353.9" x2="214.3" y2="392.6" stroke="#3a3a3a" stroke-width="1.3" stroke-dasharray="4 3"/>
<text x="45.5" y="331.2" font-size="12" fill="#e5476d" stroke="#e5476d" stroke-width="0.25" text-anchor="start" font-weight="normal" >134 ppm</text>
<text x="51.2" y="374.6" font-size="12" fill="#f6b72a" stroke="#f6b72a" stroke-width="0.25" text-anchor="start" font-weight="normal" >199 ppm</text>
<text x="251.9" y="330.1" font-size="11.6" fill="#e5476d" stroke="#e5476d" stroke-width="0.25" text-anchor="start" font-weight="normal" >CE-PY1</text>
<text x="251.4" y="400.4" font-size="11.6" fill="#f6b72a" stroke="#f6b72a" stroke-width="0.25" text-anchor="start" font-weight="normal" >CE-PY2</text>
<text x="40" y="435.5" font-size="11.9" fill="#7f7f7f" stroke="#7f7f7f" stroke-width="0.25" text-anchor="start" font-weight="normal" >200 cycles on the surface by NanoSIMS:</text>
<clipPath id="cc1"><rect x="39.2" y="440.2" width="87.2" height="87.2"/></clipPath>
<g clip-path="url(#cc1)">
<rect x="39.2" y="440.2" width="87.2" height="87.2" fill="#434343" filter="url(#tex2)"/>
<ellipse cx="105.5" cy="461" rx="19" ry="20" fill="#111" transform="rotate(-20 105.5 461)"/>
<ellipse cx="82.5" cy="508" rx="17.5" ry="16.5" fill="#141414"/>
</g>
<line x1="103.5" y1="459.5" x2="85.1" y2="482.3" stroke="#e5476d" stroke-width="1" />
<text x="56.4" y="493.2" font-size="11.6" fill="#e5476d" stroke="#e5476d" stroke-width="0.25" text-anchor="start" font-weight="normal" >5,962 ppm</text>
<text x="63.4" y="505.8" font-size="11.6" fill="#e5476d" stroke="#e5476d" stroke-width="0.25" text-anchor="start" font-weight="normal" >−945 ‰</text>
<line x1="43.9" y1="524.4" x2="80.7" y2="524.4" stroke="#f2f2f2" stroke-width="2" />
<text x="47.1" y="519.5" font-size="11.2" fill="#fafafa" stroke="#fafafa" stroke-width="0.25" text-anchor="start" font-weight="normal" >10 µm</text>
<clipPath id="cc2"><rect x="130.4" y="440.2" width="87.2" height="87.2"/></clipPath>
<g clip-path="url(#cc2)">
<rect x="130.4" y="440.2" width="87.2" height="87.2" fill="#494949" filter="url(#tex2)"/>
<path d="M134,470 L150,458 L175,474 L198,476 L205,492 L197,506 L160,490 L134,500 Z" fill="#5a5a5a" opacity="0.6"/>
<path d="M172.9,448.4 Q174,443.5 179,443.3 L191,443 Q196,442.8 197.9,447.4 L202.1,457.4 Q204,462 201.8,466.5 L199.7,471 Q197.5,475.5 192.6,476.6 L189.2,477.4 Q184.5,478.5 180.2,476.2 L180.2,476.2 Q176,474 174.3,469.5 L172.2,463.7 Q170.5,459 171.6,454.1 Z" fill="#0a0a0a"/>
<path d="M155.4,493.8 Q158,489.5 162.7,487.8 L165.3,487 Q170,485.3 174.9,486.1 L178.6,486.7 Q183.5,487.5 186.7,491.3 L192.8,498.7 Q196,502.5 195.1,507.4 L193.9,513.9 Q193,518.8 188.4,520.8 L181.1,524 Q176.5,526 172.2,523.5 L162.8,518 Q158.5,515.5 156.6,510.9 L153.9,503.9 Q152,499.3 154.6,495 Z" fill="#0a0a0a"/>
</g>
<line x1="166" y1="474.7" x2="173.4" y2="503.7" stroke="#f6b72a" stroke-width="1" />
<text x="137.6" y="458.4" font-size="11.6" fill="#f6b72a" stroke="#f6b72a" stroke-width="0.25" text-anchor="start" font-weight="normal" >3,471 ppm</text>
<text x="144.6" y="471.2" font-size="11.6" fill="#f6b72a" stroke="#f6b72a" stroke-width="0.25" text-anchor="start" font-weight="normal" >−850 ‰</text>
<line x1="135.6" y1="524.4" x2="172" y2="524.4" stroke="#f2f2f2" stroke-width="2" />
<text x="138.4" y="518.6" font-size="11.2" fill="#fafafa" stroke="#fafafa" stroke-width="0.25" text-anchor="start" font-weight="normal" >10 µm</text>
<text x="338.6" y="301.3" font-size="15.8" fill="#000" text-anchor="start" font-weight="bold" >d</text>
<line x1="366.5" y1="530.7" x2="366.5" y2="528.2" stroke="#5a5a5a" stroke-width="1" />
<line x1="386.1" y1="530.7" x2="386.1" y2="528.9" stroke="#5a5a5a" stroke-width="1" />
<line x1="405.8" y1="530.7" x2="405.8" y2="528.2" stroke="#5a5a5a" stroke-width="1" />
<line x1="425.4" y1="530.7" x2="425.4" y2="528.9" stroke="#5a5a5a" stroke-width="1" />
<line x1="445" y1="530.7" x2="445" y2="528.2" stroke="#5a5a5a" stroke-width="1" />
<line x1="464.6" y1="530.7" x2="464.6" y2="528.9" stroke="#5a5a5a" stroke-width="1" />
<line x1="484.3" y1="530.7" x2="484.3" y2="528.2" stroke="#5a5a5a" stroke-width="1" />
<line x1="503.9" y1="530.7" x2="503.9" y2="528.9" stroke="#5a5a5a" stroke-width="1" />
<line x1="523.5" y1="530.7" x2="523.5" y2="528.2" stroke="#5a5a5a" stroke-width="1" />
<line x1="543.2" y1="530.7" x2="543.2" y2="528.9" stroke="#5a5a5a" stroke-width="1" />
<line x1="562.8" y1="530.7" x2="562.8" y2="528.2" stroke="#5a5a5a" stroke-width="1" />
<line x1="582.4" y1="530.7" x2="582.4" y2="528.9" stroke="#5a5a5a" stroke-width="1" />
<line x1="602" y1="530.7" x2="602" y2="528.2" stroke="#5a5a5a" stroke-width="1" />
<line x1="621.7" y1="530.7" x2="621.7" y2="528.9" stroke="#5a5a5a" stroke-width="1" />
<line x1="641.3" y1="530.7" x2="641.3" y2="528.2" stroke="#5a5a5a" stroke-width="1" />
<line x1="366.5" y1="325.3" x2="369" y2="325.3" stroke="#5a5a5a" stroke-width="1" />
<line x1="366.5" y1="345.8" x2="368.3" y2="345.8" stroke="#5a5a5a" stroke-width="1" />
<line x1="366.5" y1="366.4" x2="369" y2="366.4" stroke="#5a5a5a" stroke-width="1" />
<line x1="366.5" y1="386.9" x2="368.3" y2="386.9" stroke="#5a5a5a" stroke-width="1" />
<line x1="366.5" y1="407.5" x2="369" y2="407.5" stroke="#5a5a5a" stroke-width="1" />
<line x1="366.5" y1="428" x2="368.3" y2="428" stroke="#5a5a5a" stroke-width="1" />
<line x1="366.5" y1="448.5" x2="369" y2="448.5" stroke="#5a5a5a" stroke-width="1" />
<line x1="366.5" y1="469.1" x2="368.3" y2="469.1" stroke="#5a5a5a" stroke-width="1" />
<line x1="366.5" y1="489.6" x2="369" y2="489.6" stroke="#5a5a5a" stroke-width="1" />
<line x1="366.5" y1="510.2" x2="368.3" y2="510.2" stroke="#5a5a5a" stroke-width="1" />
<line x1="366.5" y1="530.7" x2="369" y2="530.7" stroke="#5a5a5a" stroke-width="1" />
<text x="366.5" y="544.8" font-size="12.2" fill="#111" stroke="#111" stroke-width="0.25" text-anchor="middle" font-weight="normal" >0</text>
<text x="405.8" y="544.8" font-size="12.2" fill="#111" stroke="#111" stroke-width="0.25" text-anchor="middle" font-weight="normal" >1000</text>
<text x="445" y="544.8" font-size="12.2" fill="#111" stroke="#111" stroke-width="0.25" text-anchor="middle" font-weight="normal" >2000</text>
<text x="484.3" y="544.8" font-size="12.2" fill="#111" stroke="#111" stroke-width="0.25" text-anchor="middle" font-weight="normal" >3000</text>
<text x="523.5" y="544.8" font-size="12.2" fill="#111" stroke="#111" stroke-width="0.25" text-anchor="middle" font-weight="normal" >4000</text>
<text x="562.8" y="544.8" font-size="12.2" fill="#111" stroke="#111" stroke-width="0.25" text-anchor="middle" font-weight="normal" >5000</text>
<text x="602" y="544.8" font-size="12.2" fill="#111" stroke="#111" stroke-width="0.25" text-anchor="middle" font-weight="normal" >6000</text>
<text x="641.3" y="544.8" font-size="12.2" fill="#111" stroke="#111" stroke-width="0.25" text-anchor="middle" font-weight="normal" >7000</text>
<text x="364.3" y="329.7" font-size="12.2" fill="#111" stroke="#111" stroke-width="0.25" text-anchor="end" font-weight="normal" >-600</text>
<text x="364.3" y="370.8" font-size="12.2" fill="#111" stroke="#111" stroke-width="0.25" text-anchor="end" font-weight="normal" >-750</text>
<text x="364.3" y="411.9" font-size="12.2" fill="#111" stroke="#111" stroke-width="0.25" text-anchor="end" font-weight="normal" >-900</text>
<text x="364.3" y="452.9" font-size="12.2" fill="#111" stroke="#111" stroke-width="0.25" text-anchor="end" font-weight="normal" >-1050</text>
<text x="364.3" y="494" font-size="12.2" fill="#111" stroke="#111" stroke-width="0.25" text-anchor="end" font-weight="normal" >-1200</text>
<text x="364.3" y="535.1" font-size="12.2" fill="#111" stroke="#111" stroke-width="0.25" text-anchor="end" font-weight="normal" >-1350</text>
<text x="504.5" y="560.3" font-size="12.6" fill="#111" stroke="#111" stroke-width="0.25" text-anchor="middle">H<tspan font-size="8.5" dy="3">2</tspan><tspan dy="-3">O (ppm)</tspan></text>
<text transform="translate(330.4,420.4) rotate(-90)" font-size="12.6" fill="#111" stroke="#111" stroke-width="0.25" text-anchor="middle">δD (‰)</text>
<line x1="402.5" y1="321.2" x2="402.5" y2="424.2" stroke="#d6d6d6" stroke-width="1.3" />
<line x1="397.8" y1="372.7" x2="407.2" y2="372.7" stroke="#d6d6d6" stroke-width="1.3" />
<line x1="509.1" y1="353.8" x2="509.1" y2="463.3" stroke="#d6d6d6" stroke-width="1.3" />
<line x1="499.3" y1="408.6" x2="518.9" y2="408.6" stroke="#d6d6d6" stroke-width="1.3" />
<line x1="542.5" y1="366.1" x2="542.5" y2="460.3" stroke="#d6d6d6" stroke-width="1.3" />
<line x1="530.3" y1="413.2" x2="554.7" y2="413.2" stroke="#d6d6d6" stroke-width="1.3" />
<line x1="437.1" y1="333.5" x2="437.1" y2="441.4" stroke="#d6d6d6" stroke-width="1.3" />
<line x1="507" y1="348.9" x2="507" y2="431.6" stroke="#d6d6d6" stroke-width="1.3" />
<line x1="503.8" y1="390.2" x2="510.1" y2="390.2" stroke="#d6d6d6" stroke-width="1.3" />
<line x1="542.2" y1="354.1" x2="542.2" y2="407.2" stroke="#d6d6d6" stroke-width="1.3" />
<line x1="537.5" y1="380.6" x2="546.9" y2="380.6" stroke="#d6d6d6" stroke-width="1.3" />
<line x1="502.8" y1="349.4" x2="502.8" y2="438.1" stroke="#d6d6d6" stroke-width="1.3" />
<line x1="496.3" y1="393.8" x2="509.2" y2="393.8" stroke="#d6d6d6" stroke-width="1.3" />
<line x1="600.6" y1="314.3" x2="600.6" y2="525.2" stroke="#d6d6d6" stroke-width="1.3" />
<line x1="587.2" y1="419.8" x2="613.9" y2="419.8" stroke="#d6d6d6" stroke-width="1.3" />
<circle cx="402.5" cy="372.7" r="4.6" fill="#e0164a"/>
<circle cx="509.1" cy="408.6" r="4.6" fill="#e5476d"/>
<circle cx="542.5" cy="413.2" r="4.6" fill="#e5476d"/>
<rect x="433.1" y="383.5" width="8" height="8" fill="#f6b72a"/>
<rect x="503" y="386.2" width="8" height="8" fill="#f6b72a"/>
<rect x="538.2" y="376.6" width="8" height="8" fill="#f6b72a"/>
<path d="M502.8,387.5 L508.4,397 L497.2,397 Z" fill="#22c1c6"/>
<path d="M600.6,413.5 L606.2,423 L595,423 Z" fill="#22c1c6"/>
<text x="410.3" y="370.2" font-size="11.4" fill="#e5476d" stroke="#e5476d" stroke-width="0.25" text-anchor="start" font-weight="normal" >3</text>
<text x="444.2" y="384.8" font-size="11.4" fill="#f6b72a" stroke="#f6b72a" stroke-width="0.25" text-anchor="start" font-weight="normal" >3</text>
<text x="486.8" y="391.3" font-size="11.4" fill="#22c1c6" stroke="#22c1c6" stroke-width="0.25" text-anchor="start" font-weight="normal" >2</text>
<text x="514.4" y="387.8" font-size="11.4" fill="#f6b72a" stroke="#f6b72a" stroke-width="0.25" text-anchor="start" font-weight="normal" >2</text>
<text x="550" y="377.9" font-size="11.4" fill="#f6b72a" stroke="#f6b72a" stroke-width="0.25" text-anchor="start" font-weight="normal" >1</text>
<text x="520.6" y="405.7" font-size="11.4" fill="#e5476d" stroke="#e5476d" stroke-width="0.25" text-anchor="start" font-weight="normal" >2</text>
<text x="555.6" y="410.1" font-size="11.4" fill="#e5476d" stroke="#e5476d" stroke-width="0.25" text-anchor="start" font-weight="normal" >1</text>
<text x="614.9" y="417.6" font-size="11.4" fill="#22c1c6" stroke="#22c1c6" stroke-width="0.25" text-anchor="start" font-weight="normal" >1</text>
<circle cx="378.5" cy="493.3" r="4.7" fill="#e5476d"/>
<rect x="374.3" y="502.2" width="8.4" height="8.2" fill="#f6b72a"/>
<path d="M378.5,513.6 L384.3,522.5 L372.8,522.5 Z" fill="#22c1c6"/>
<text x="393" y="496.8" font-size="10.6" fill="#111" stroke="#111" stroke-width="0.25" text-anchor="start" font-weight="normal" >CE-OL</text>
<text x="393" y="509.7" font-size="10.6" fill="#111" stroke="#111" stroke-width="0.25" text-anchor="start" font-weight="normal" >CE-PL</text>
<text x="393" y="522.7" font-size="10.6" fill="#111" stroke="#111" stroke-width="0.25" text-anchor="start" font-weight="normal" >CE-PY</text>
<rect x="366.5" y="311.3" width="274.8" height="219.4" fill="none" stroke="#5a5a5a" stroke-width="1.2"/>
</svg>
</body></html>
